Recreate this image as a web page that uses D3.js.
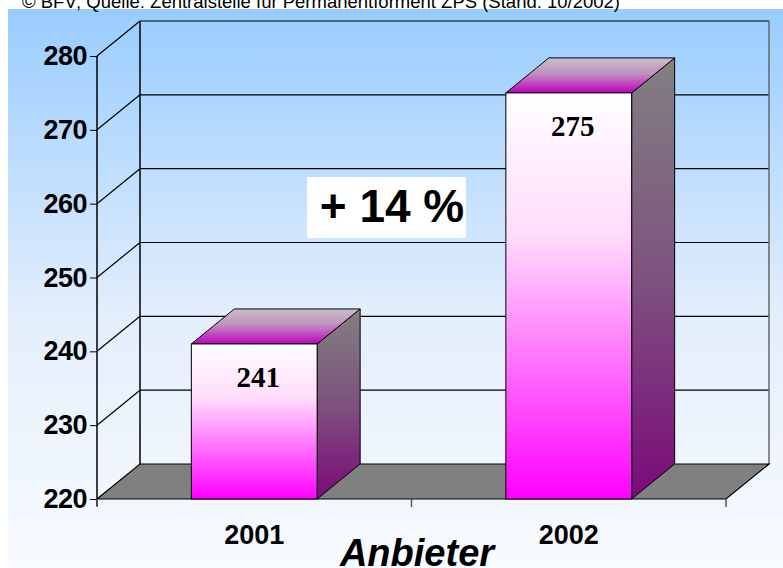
<!DOCTYPE html>
<html>
<head>
<meta charset="utf-8">
<script src="https://cdn.jsdelivr.net/npm/d3@7"></script>
<style>
  body { margin: 0; background: #fff; }
  svg { display: block; font-family: Arial, "Liberation Sans", sans-serif; }
  .grid line { stroke: #000; stroke-width: 1.2; }
  .yaxis path { display: none; }
  .yaxis line { stroke: #000; }
  .yaxis text { font-size: 27px; font-weight: bold; fill: #000; letter-spacing: -0.5px; }
  .xaxis path, .xaxis line { display: none; }
  .xaxis text { font-size: 27px; font-weight: bold; fill: #000; }
</style>
</head>
<body>
<svg id="chart"></svg>
<script>
// chart data
var years = ["2001", "2002"];
var anbieter = [241, 275];
var yTicks = [220, 230, 240, 250, 260, 270, 280];
var growthLabel = "+ 14 %";
var source = "© BFV; Quelle: Zentralstelle für Permanentforment ZPS (Stand: 10/2002)";
var axisTitle = "Anbieter";

var width = 783,
    height = 568;

// 3d depth offset of the chart box
var dx = 43, dy = -35;

var svg = d3.select("#chart")
    .attr("width", width)
    .attr("height", height);

var defs = svg.append("defs");

function grad(id, x2, y2, stops) {
  var g = defs.append("linearGradient").attr("id", id)
      .attr("x1", 0).attr("y1", 0).attr("x2", x2).attr("y2", y2);
  stops.forEach(function(s) {
    g.append("stop").attr("offset", s[0]).attr("stop-color", s[1]);
  });
}
grad("bg", 0, 1, [[0, "#99ccff"], [0.55, "#e3eefc"], [1, "#f8fbff"]]);
grad("front", 0, 1, [[0, "#ffffff"], [0.35, "#ffdcfb"], [1, "#ff00ff"]]);
grad("side", 0, 1, [[0, "#828082"], [0.5, "#7e527e"], [1, "#7a0a7a"]]);
grad("top", 0, 1, [[0, "#c8c0c8"], [0.45, "#c090c0"], [1, "#c000c0"]]);

// background panel
svg.append("rect")
    .attr("x", 8).attr("y", 9)
    .attr("width", width - 8).attr("height", height - 9)
    .attr("fill", "url(#bg)");

// source line (cut at the top like the original)
svg.append("text")
    .attr("x", 22).attr("y", 8)
    .style("font-size", "18.5px")
    .attr("fill", "#000")
    .text(source);

var y = d3.scaleLinear()
    .domain([220, 280])
    .range([499, 56]);

var x = d3.scaleBand()
    .domain(years)
    .range([97, 726]);

var x0 = x.range()[0], x1 = x.range()[1];

// back wall grid lines
var grid = svg.append("g").attr("class", "grid");
grid.selectAll(".back")
    .data(yTicks.slice(1))
  .enter().append("line")
    .attr("x1", x0 + dx).attr("x2", x1 + dx)
    .attr("y1", function(d) { return y(d) + dy; })
    .attr("y2", function(d) { return y(d) + dy; });

// side wall diagonals
grid.selectAll(".side")
    .data(yTicks.slice(1))
  .enter().append("line")
    .attr("x1", x0).attr("x2", x0 + dx)
    .attr("y1", function(d) { return y(d); })
    .attr("y2", function(d) { return y(d) + dy; });

// back wall vertical edges
svg.append("line")
    .attr("x1", x0 + dx).attr("x2", x0 + dx)
    .attr("y1", y(280) + dy).attr("y2", y(220) + dy)
    .attr("stroke", "#000").attr("stroke-width", 1.5);
svg.append("line")
    .attr("x1", x1 + dx).attr("x2", x1 + dx)
    .attr("y1", y(280) + dy).attr("y2", y(220) + dy)
    .attr("stroke", "#666").attr("stroke-width", 1.5);

// floor
svg.append("path")
    .attr("d", "M" + x0 + "," + y(220) + "L" + x1 + "," + y(220) +
         "L" + (x1 + dx) + "," + (y(220) + dy) + "L" + (x0 + dx) + "," + (y(220) + dy) + "Z")
    .attr("fill", "#808080")
    .attr("stroke", "#000")
    .attr("stroke-width", 1.2);

// y axis
svg.append("g")
    .attr("class", "yaxis")
    .attr("transform", "translate(" + x0 + ",0)")
    .call(d3.axisLeft(y).tickValues(yTicks).tickSize(7).tickPadding(3));

svg.append("line")
    .attr("x1", x0).attr("x2", x0)
    .attr("y1", y(280)).attr("y2", y(220) + 7)
    .attr("stroke", "#000").attr("stroke-width", 1.5);

// x axis ticks at band boundaries
svg.selectAll(".xtick")
    .data([x0, x0 + x.step(), x1])
  .enter().append("line")
    .attr("x1", function(d) { return d; }).attr("x2", function(d) { return d; })
    .attr("y1", y(220)).attr("y2", y(220) + 8)
    .attr("stroke", "#555").attr("stroke-width", 1.5);

svg.append("g")
    .attr("class", "xaxis")
    .attr("transform", "translate(0," + y(220) + ")")
    .call(d3.axisBottom(x).tickSize(0).tickPadding(26));

// bars
var barW = x.bandwidth() * 0.4;
var bars = svg.selectAll(".bar")
    .data(anbieter)
  .enter().append("g")
    .attr("class", "bar");

bars.each(function(d, i) {
  var g = d3.select(this);
  var bx = x(years[i]) + (x.bandwidth() - barW) / 2,
      by = y(d),
      bb = y(220);
  // side face
  g.append("path")
      .attr("d", "M" + (bx + barW) + "," + by + "L" + (bx + barW + dx) + "," + (by + dy) +
           "L" + (bx + barW + dx) + "," + (bb + dy) + "L" + (bx + barW) + "," + bb + "Z")
      .attr("fill", "url(#side)").attr("stroke", "#000").attr("stroke-width", 1);
  // top face
  g.append("path")
      .attr("d", "M" + bx + "," + by + "L" + (bx + dx) + "," + (by + dy) +
           "L" + (bx + barW + dx) + "," + (by + dy) + "L" + (bx + barW) + "," + by + "Z")
      .attr("fill", "url(#top)").attr("stroke", "#000").attr("stroke-width", 1);
  // front face
  g.append("rect")
      .attr("x", bx).attr("y", by)
      .attr("width", barW).attr("height", bb - by)
      .attr("fill", "url(#front)").attr("stroke", "#000").attr("stroke-width", 1);
  // value label
  g.append("text")
      .attr("x", bx + barW / 2 + 4)
      .attr("y", by + 43)
      .attr("text-anchor", "middle")
      .style("font-family", "'Times New Roman', 'Liberation Serif', serif")
      .style("font-weight", "bold")
      .style("font-size", "29px")
      .text(d);
});

// growth box
svg.append("rect")
    .attr("x", 307).attr("y", 177)
    .attr("width", 159).attr("height", 61)
    .attr("fill", "#fff");
svg.append("text")
    .attr("x", 392).attr("y", 222)
    .attr("text-anchor", "middle")
    .style("font-size", "46px")
    .style("font-weight", "bold")
    .text(growthLabel);

// axis title
svg.append("text")
    .attr("x", 417).attr("y", 566)
    .attr("text-anchor", "middle")
    .style("font-size", "38px")
    .style("font-weight", "bold")
    .style("font-style", "italic")
    .text(axisTitle);
</script>
</body>
</html>
